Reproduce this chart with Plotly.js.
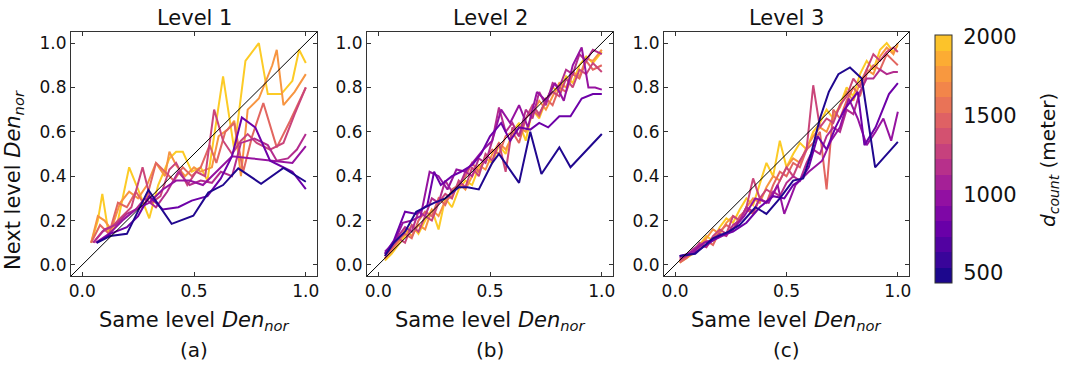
<!DOCTYPE html>
<html>
<head>
<meta charset="utf-8">
<script src="https://cdn.plot.ly/plotly-3.0.1.min.js"></script>
<style>html,body{margin:0;padding:0;background:#fff;}#chart{width:1068px;height:365px;}</style>
</head>
<body>
<div id="chart"></div>
<script>
// ---------------- DATA ----------------
const panelTitles = ['Level 1', 'Level 2', 'Level 3'];
const panelLetters = ['(a)', '(b)', '(c)'];
const xTickVals = [0, 0.5, 1.0];
const xTickText = ['0.0', '0.5', '1.0'];
const yTickVals = [0, 0.2, 0.4, 0.6, 0.8, 1.0];
const yTickText = ['0.0', '0.2', '0.4', '0.6', '0.8', '1.0'];
const colorTickVals = [500, 1000, 1500, 2000];
const diagX = [-0.05, 1.05];
const diagY = [-0.05, 1.05];
const lineCounts = [500, 800, 1000, 1150, 1300, 1500, 1750, 2000]; // d_count (meter)

// Level 1
const l1_500_x = [0.065,0.125,0.20,0.296,0.40,0.497,0.564,0.63,0.698,0.80,0.90,1.0];
const l1_500_y = [0.10,0.13,0.14,0.338,0.185,0.222,0.326,0.36,0.435,0.366,0.437,0.375];
const l1_800_x = [0.065,0.125,0.20,0.25,0.30,0.36,0.43,0.49,0.56,0.62,0.67,0.714,0.774,0.84,0.94,1.0];
const l1_800_y = [0.10,0.14,0.17,0.22,0.31,0.25,0.26,0.29,0.31,0.39,0.49,0.665,0.62,0.47,0.42,0.342];
const l1_1000_x = [0.06,0.12,0.18,0.24,0.30,0.36,0.42,0.48,0.54,0.60,0.67,0.76,0.84,0.94,1.0];
const l1_1000_y = [0.10,0.14,0.20,0.25,0.28,0.34,0.38,0.38,0.36,0.42,0.49,0.48,0.47,0.46,0.535];
const l1_1150_x = [0.05,0.10,0.15,0.20,0.24,0.28,0.33,0.38,0.43,0.48,0.53,0.58,0.62,0.67,0.71,0.77,0.83,0.87,0.92,0.96,1.0];
const l1_1150_y = [0.10,0.16,0.18,0.23,0.25,0.30,0.26,0.33,0.42,0.36,0.38,0.37,0.42,0.40,0.55,0.57,0.54,0.47,0.48,0.52,0.59];
const l1_1300_x = [0.05,0.09,0.13,0.18,0.22,0.27,0.31,0.35,0.39,0.42,0.47,0.51,0.55,0.59,0.63,0.67,0.71,0.74,0.78,0.84,0.90,0.95,1.0];
const l1_1300_y = [0.10,0.15,0.17,0.22,0.26,0.44,0.28,0.31,0.43,0.46,0.36,0.42,0.40,0.70,0.56,0.50,0.56,0.59,0.55,0.52,0.55,0.68,0.80];
const l1_1500_x = [0.04,0.08,0.12,0.16,0.20,0.24,0.28,0.33,0.37,0.41,0.45,0.49,0.53,0.57,0.60,0.64,0.68,0.72,0.76,0.81,0.87,0.93,1.0];
const l1_1500_y = [0.10,0.18,0.14,0.28,0.26,0.33,0.27,0.46,0.42,0.38,0.44,0.40,0.44,0.54,0.46,0.60,0.64,0.42,0.58,0.73,0.53,0.65,0.80];
const l1_1750_x = [0.04,0.07,0.10,0.13,0.17,0.21,0.25,0.29,0.33,0.37,0.39,0.42,0.46,0.50,0.53,0.58,0.61,0.65,0.68,0.71,0.74,0.79,0.85,0.87,0.90,0.95,1.0];
const l1_1750_y = [0.10,0.22,0.20,0.16,0.28,0.33,0.30,0.36,0.46,0.40,0.51,0.45,0.40,0.44,0.42,0.44,0.58,0.61,0.65,0.40,0.70,0.75,0.90,0.97,0.72,0.78,0.86];
const l1_2000_x = [0.04,0.07,0.09,0.12,0.16,0.21,0.25,0.30,0.34,0.39,0.42,0.45,0.49,0.53,0.56,0.63,0.68,0.73,0.79,0.83,0.89,0.94,0.97,1.0];
const l1_2000_y = [0.10,0.20,0.32,0.13,0.20,0.44,0.34,0.21,0.36,0.48,0.51,0.51,0.42,0.44,0.38,0.85,0.52,0.92,1.00,0.77,0.77,0.83,0.97,0.91];

// Level 2
const l2_grid_x = [0.03,0.06,0.09,0.12,0.15,0.18,0.21,0.24,0.27,0.30,0.33,0.36,0.39,0.42,0.45,0.48,0.51,0.54,0.57,0.60,0.63,0.66,0.69,0.72,0.75,0.78,0.81,0.84,0.87,0.90,0.93,0.96,1.0];
const l2_500_x = [0.03,0.07,0.12,0.17,0.25,0.30,0.36,0.40,0.45,0.51,0.54,0.63,0.68,0.73,0.81,0.86,1.0];
const l2_500_y = [0.04,0.10,0.15,0.24,0.28,0.30,0.35,0.35,0.34,0.46,0.50,0.37,0.60,0.41,0.53,0.44,0.59];
const l2_800_x = [0.03,0.07,0.12,0.17,0.22,0.25,0.28,0.33,0.37,0.42,0.46,0.50,0.55,0.59,0.63,0.68,0.72,0.76,0.81,0.86,0.91,0.96,1.0];
const l2_800_y = [0.05,0.11,0.24,0.23,0.27,0.42,0.36,0.40,0.42,0.45,0.50,0.58,0.64,0.56,0.62,0.61,0.64,0.62,0.67,0.67,0.75,0.77,0.77];
const l2_1000_x = [0.03,0.07,0.11,0.15,0.19,0.23,0.27,0.31,0.35,0.39,0.43,0.47,0.51,0.55,0.59,0.63,0.67,0.71,0.75,0.79,0.83,0.87,0.91,0.94,0.97,1.0];
const l2_1000_y = [0.06,0.10,0.19,0.20,0.22,0.42,0.40,0.34,0.43,0.42,0.47,0.52,0.56,0.70,0.64,0.72,0.62,0.78,0.74,0.82,0.74,0.90,0.98,0.80,0.80,0.79];
const l2_1150_y = [0.05,0.09,0.13,0.17,0.15,0.24,0.22,0.30,0.28,0.38,0.33,0.35,0.42,0.40,0.48,0.46,0.56,0.71,0.60,0.64,0.58,0.70,0.66,0.78,0.72,0.82,0.80,0.88,0.86,0.95,0.92,0.97,0.95];
const l2_1300_y = [0.04,0.08,0.12,0.10,0.18,0.15,0.22,0.20,0.28,0.32,0.30,0.38,0.35,0.44,0.40,0.50,0.47,0.55,0.42,0.62,0.58,0.66,0.72,0.68,0.74,0.78,0.76,0.84,0.80,0.88,0.86,0.91,0.87];
const l2_1500_y = [0.03,0.07,0.11,0.14,0.12,0.20,0.24,0.22,0.30,0.27,0.34,0.36,0.40,0.46,0.42,0.48,0.52,0.50,0.58,0.60,0.55,0.66,0.70,0.67,0.75,0.72,0.80,0.78,0.86,0.84,0.92,0.88,0.90];
const l2_1750_y = [0.03,0.06,0.10,0.16,0.13,0.18,0.16,0.25,0.22,0.29,0.31,0.37,0.34,0.40,0.45,0.43,0.50,0.55,0.52,0.58,0.62,0.60,0.68,0.74,0.70,0.76,0.82,0.80,0.87,0.85,0.93,0.92,0.97];
const l2_2000_y = [0.02,0.05,0.09,0.13,0.18,0.14,0.20,0.25,0.16,0.30,0.26,0.34,0.38,0.36,0.44,0.48,0.46,0.54,0.50,0.60,0.64,0.56,0.70,0.66,0.74,0.80,0.78,0.85,0.82,0.90,0.94,0.91,0.96];

// Level 3
const l3_grid_x = [0.02,0.05,0.08,0.11,0.14,0.17,0.20,0.23,0.26,0.29,0.32,0.35,0.38,0.41,0.44,0.47,0.50,0.53,0.56,0.59,0.62,0.65,0.68,0.71,0.74,0.77,0.80,0.83,0.86,0.89,0.92,0.95,0.98,1.0];
const l3_500_x = [0.02,0.09,0.17,0.24,0.29,0.36,0.41,0.47,0.53,0.575,0.61,0.65,0.69,0.733,0.785,0.838,0.898,1.0];
const l3_500_y = [0.04,0.05,0.12,0.15,0.18,0.26,0.23,0.30,0.38,0.39,0.50,0.66,0.78,0.86,0.89,0.84,0.44,0.555];
const l3_800_x = [0.02,0.08,0.14,0.20,0.26,0.32,0.38,0.44,0.49,0.53,0.56,0.60,0.64,0.68,0.72,0.76,0.82,0.85,0.90,0.96,1.0];
const l3_800_y = [0.04,0.05,0.09,0.13,0.15,0.19,0.26,0.31,0.30,0.36,0.38,0.44,0.58,0.52,0.62,0.70,0.78,0.54,0.62,0.77,0.82];
const l3_1000_x = [0.03,0.08,0.13,0.19,0.25,0.31,0.36,0.42,0.46,0.49,0.54,0.60,0.66,0.70,0.74,0.78,0.82,0.86,0.90,0.935,0.97,1.0];
const l3_1000_y = [0.04,0.06,0.10,0.12,0.15,0.22,0.30,0.28,0.36,0.23,0.36,0.42,0.47,0.56,0.62,0.75,0.66,0.54,0.60,0.66,0.56,0.69];
const l3_1150_y = [0.03,0.04,0.07,0.09,0.08,0.12,0.14,0.13,0.18,0.20,0.26,0.24,0.30,0.28,0.33,0.31,0.37,0.40,0.38,0.46,0.52,0.50,0.58,0.62,0.60,0.70,0.68,0.78,0.84,0.84,0.88,0.86,0.87,0.87];
const l3_1300_y = [0.02,0.04,0.06,0.10,0.08,0.13,0.16,0.14,0.22,0.20,0.26,0.39,0.30,0.34,0.32,0.38,0.44,0.40,0.47,0.52,0.81,0.62,0.66,0.64,0.72,0.76,0.84,0.80,0.88,0.95,0.92,0.96,0.98,0.96];
const l3_1500_y = [0.01,0.03,0.06,0.08,0.11,0.09,0.15,0.18,0.16,0.22,0.25,0.23,0.30,0.28,0.36,0.42,0.40,0.46,0.44,0.52,0.55,0.60,0.34,0.70,0.66,0.74,0.80,0.76,0.86,0.90,0.88,0.95,0.92,0.90];
const l3_1750_y = [0.02,0.03,0.06,0.09,0.12,0.16,0.14,0.19,0.22,0.20,0.26,0.30,0.28,0.35,0.40,0.38,0.44,0.48,0.46,0.53,0.58,0.62,0.60,0.67,0.71,0.78,0.74,0.82,0.88,0.86,0.94,0.98,0.95,1.00];
const l3_2000_y = [0.01,0.03,0.05,0.09,0.13,0.11,0.17,0.21,0.19,0.25,0.30,0.27,0.36,0.46,0.40,0.56,0.44,0.50,0.55,0.52,0.60,0.64,0.70,0.66,0.72,0.80,0.76,0.86,0.92,0.88,0.97,1.00,0.96,0.99];

// ---------------- STYLE / BUILD ----------------
const W = 1068, H = 365;
const FONT = 'DejaVu Sans, sans-serif';
const CMIN = 437, CMAX = 2013, NBANDS = 16;
const PLASMA = ['#0d0887','#41049d','#6a00a8','#8f0da4','#b12a90','#cc4778','#e16462','#f2844b','#fca636','#fcce25','#f0f921'];
function hex2rgb(h){return [parseInt(h.slice(1,3),16),parseInt(h.slice(3,5),16),parseInt(h.slice(5,7),16)];}
function plasma(p){
  p = Math.max(0, Math.min(1, p));
  const s = p*10, i = Math.min(9, Math.floor(s)), f = s - i;
  const a = hex2rgb(PLASMA[i]), b = hex2rgb(PLASMA[i+1]);
  const c = a.map((v,k)=>Math.round(v + (b[k]-v)*f));
  return 'rgb(' + c.join(',') + ')';
}
function colorFor(v){ return plasma(0.9*(v-CMIN)/(CMAX-CMIN)); }
const cscale = [];
for (let i = 0; i < NBANDS; i++) {
  const c = plasma(0.9*(i+0.5)/NBANDS);
  cscale.push([i/NBANDS, c]); cscale.push([(i+1)/NBANDS, c]);
}

const panels = [
  {ax:'', series:[[l1_500_x,l1_500_y],[l1_800_x,l1_800_y],[l1_1000_x,l1_1000_y],[l1_1150_x,l1_1150_y],[l1_1300_x,l1_1300_y],[l1_1500_x,l1_1500_y],[l1_1750_x,l1_1750_y],[l1_2000_x,l1_2000_y]]},
  {ax:'2', series:[[l2_500_x,l2_500_y],[l2_800_x,l2_800_y],[l2_1000_x,l2_1000_y],[l2_grid_x,l2_1150_y],[l2_grid_x,l2_1300_y],[l2_grid_x,l2_1500_y],[l2_grid_x,l2_1750_y],[l2_grid_x,l2_2000_y]]},
  {ax:'3', series:[[l3_500_x,l3_500_y],[l3_800_x,l3_800_y],[l3_1000_x,l3_1000_y],[l3_grid_x,l3_1150_y],[l3_grid_x,l3_1300_y],[l3_grid_x,l3_1500_y],[l3_grid_x,l3_1750_y],[l3_grid_x,l3_2000_y]]}
];

const traces = [];
panels.forEach(pn => {
  for (let k = pn.series.length - 1; k >= 0; k--) {
    traces.push({type:'scatter', mode:'lines', x:pn.series[k][0], y:pn.series[k][1],
      xaxis:'x'+pn.ax, yaxis:'y'+pn.ax, showlegend:false, hoverinfo:'skip',
      line:{color:colorFor(lineCounts[k]), width:2}});
  }
  traces.push({type:'scatter', mode:'lines', x:diagX, y:diagY, xaxis:'x'+pn.ax, yaxis:'y'+pn.ax,
    showlegend:false, hoverinfo:'skip', line:{color:'#000', width:1}});
});
// colorbar carrier
traces.push({type:'scatter', mode:'markers', x:[-1,-1], y:[-1,-1], xaxis:'x', yaxis:'y',
  showlegend:false, hoverinfo:'skip',
  marker:{size:1, color:[CMIN, CMAX], cmin:CMIN, cmax:CMAX, colorscale:cscale, showscale:true,
    colorbar:{x:935/W, xanchor:'left', xpad:0, y:1-35/H, yanchor:'top', ypad:0,
      len:248/H, lenmode:'fraction', thickness:17, thicknessmode:'pixels',
      outlinewidth:1, outlinecolor:'#333', tickvals:colorTickVals, ticks:'outside', ticklen:7,
      tickcolor:'rgba(0,0,0,0)', tickfont:{family:FONT, size:21, color:'#111'}}}});

const boxes = [[71,317],[367,613],[664,909]];
const yTop = 32, yBot = 276;
const layout = {
  width:W, height:H, margin:{l:0,r:0,t:0,b:0}, paper_bgcolor:'#fff', plot_bgcolor:'#fff',
  font:{family:FONT, color:'#111'}, showlegend:false, annotations:[]
};
boxes.forEach((b,i) => {
  const s = i===0 ? '' : String(i+1);
  layout['xaxis'+s] = {domain:[b[0]/W, b[1]/W], anchor:'y'+s, range:[-0.05,1.05], tickvals:xTickVals, ticktext:xTickText,
    ticks:'inside', ticklen:4, tickcolor:'#333', showline:true, linecolor:'#333', linewidth:1, mirror:'allticks',
    showgrid:false, zeroline:false, tickfont:{family:FONT, size:17, color:'#111'}, fixedrange:true};
  layout['yaxis'+s] = {domain:[1-yBot/H, 1-yTop/H], anchor:'x'+s, range:[-0.05,1.05], tickvals:yTickVals, ticktext:yTickText,
    ticks:'inside', ticklen:4, tickcolor:'#333', showline:true, linecolor:'#333', linewidth:1, mirror:'allticks',
    showgrid:false, zeroline:false, tickfont:{family:FONT, size:17, color:'#111'}, fixedrange:true};
  const cx = (b[0]+b[1])/2/W;
  layout.annotations.push({text:panelTitles[i], xref:'paper', yref:'paper', x:cx, y:1-18/H, xanchor:'center', yanchor:'middle', showarrow:false, font:{family:FONT, size:21, color:'#111'}});
  layout.annotations.push({text:'Same level <i>Den<sub>nor</sub></i>', xref:'paper', yref:'paper', x:cx, y:1-321/H, xanchor:'center', yanchor:'middle', showarrow:false, font:{family:FONT, size:21, color:'#111'}});
  layout.annotations.push({text:panelLetters[i], xref:'paper', yref:'paper', x:cx, y:1-350/H, xanchor:'center', yanchor:'middle', showarrow:false, font:{family:FONT, size:20, color:'#111'}});
});
layout.annotations.push({text:'Next level <i>Den<sub>nor</sub></i>', xref:'paper', yref:'paper', x:14/W, y:1-180/H, xanchor:'center', yanchor:'middle', textangle:-90, showarrow:false, font:{family:FONT, size:21, color:'#111'}});
layout.annotations.push({text:'<i>d</i><sub><i>count</i></sub> (meter)', xref:'paper', yref:'paper', x:1049/W, y:1-160/H, xanchor:'center', yanchor:'middle', textangle:-90, showarrow:false, font:{family:FONT, size:20, color:'#111'}});

Plotly.newPlot('chart', traces, layout, {staticPlot:true, displayModeBar:false});
</script>
</body>
</html>
